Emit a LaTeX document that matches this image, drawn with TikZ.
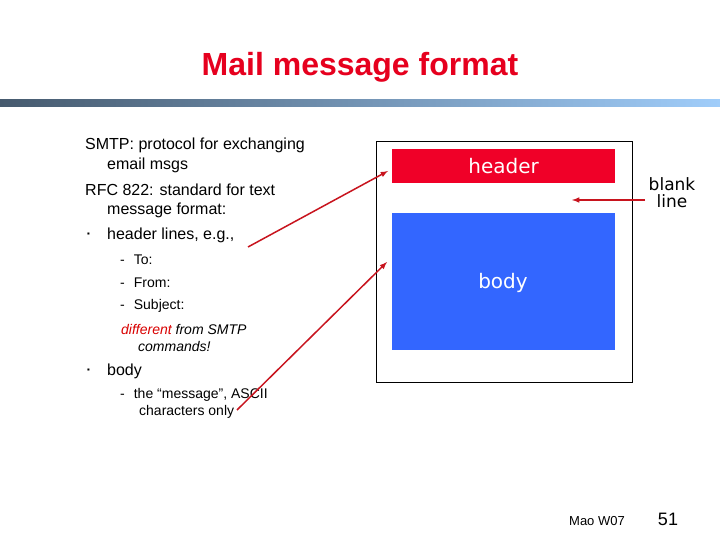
\documentclass[tikz,border=0pt]{standalone}
\usepackage{fontspec}
\setmainfont{Liberation Sans}
\newfontfamily\comic{DejaVu Sans}
\begin{document}
\begin{tikzpicture}[x=1pt,y=-1pt,
  txt/.style={anchor=west,inner sep=0pt,font=\fontsize{16}{18}\selectfont},
  sub/.style={anchor=west,inner sep=0pt,font=\fontsize{14}{16}\selectfont},
  arr/.style={draw={rgb,255:red,200;green,20;blue,30},line width=1.5pt,-latex}]
\useasboundingbox (0,0) rectangle (720,540);
\fill[white] (0,0) rectangle (720,540);
\node[font=\bfseries\fontsize{32}{36}\selectfont,text={rgb,255:red,230;green,0;blue,30}] (title) at (360,67) {Mail message format};
\shade[left color={rgb,255:red,70;green,90;blue,110},right color={rgb,255:red,160;green,205;blue,250}] (0,100) rectangle (720,107);
\node[txt] (l1) at (85,145) {SMTP: protocol for exchanging};
\node[txt] (l2) at (107,165) {email msgs};
\node[txt] (l3) at (85,190) {RFC 822: standard for text};
\node[txt] (l4) at (107,210) {message format:};
\node[txt] (b1) at (87,235) {\fontsize{8}{8}\selectfont\char"25AA};
\node[txt] (l5) at (107,235) {header lines, e.g.,};
\node[sub] (s1) at (120,260) {-\hspace{9pt}To:};
\node[sub] (s2) at (120,283) {-\hspace{9pt}From:};
\node[sub] (s3) at (120,306) {-\hspace{9pt}Subject:};
\node[sub,font=\itshape\fontsize{14}{16}\selectfont] (s4) at (121,329) {\textcolor{red!85!black}{different} from SMTP};
\node[sub,font=\itshape\fontsize{14}{16}\selectfont] (s5) at (138,346) {commands!};
\node[txt] (b2) at (87,371) {\fontsize{8}{8}\selectfont\char"25AA};
\node[txt] (l6) at (107,371) {body};
\node[sub] (s6) at (120,395) {-\hspace{9pt}the ``message'', ASCII};
\node[sub] (s7) at (139,412) {characters only};
\node[draw=black,line width=0.8pt,minimum width=256,minimum height=241,anchor=north west,inner sep=0] (outer) at (376,141) {};
\node[fill={rgb,255:red,240;green,0;blue,40},minimum width=223,minimum height=34,anchor=north west,inner sep=0] (hdr) at (392,149) {};
\node[text=white,font=\comic\fontsize{20}{22}\selectfont] at (hdr.center) {header};
\node[fill={rgb,255:red,51;green,102;blue,255},minimum width=223,minimum height=137,anchor=north west,inner sep=0] (bdy) at (392,213) {};
\node[text=white,font=\comic\fontsize{20}{22}\selectfont] at (503,283) {body};
\node[font=\comic\fontsize{17}{20}\selectfont,align=center] (blank) at (672,193) {blank\\[-3pt]line};
\coordinate (a1) at (248,247); \coordinate (t1) at (388,171);
\coordinate (a2) at (237,410); \coordinate (t2) at (387,262);
\coordinate (a3) at (645,200); \coordinate (t3) at (572,200);
\draw[arr] (a1) -- (t1);
\draw[arr] (a2) -- (t2);
\draw[arr] (a3) -- (t3);
\node[font=\fontsize{13}{15}\selectfont] (mao) at (597,521) {Mao W07};
\node[font=\fontsize{18}{20}\selectfont] (pg) at (668,519) {51};
\end{tikzpicture}
\end{document}
